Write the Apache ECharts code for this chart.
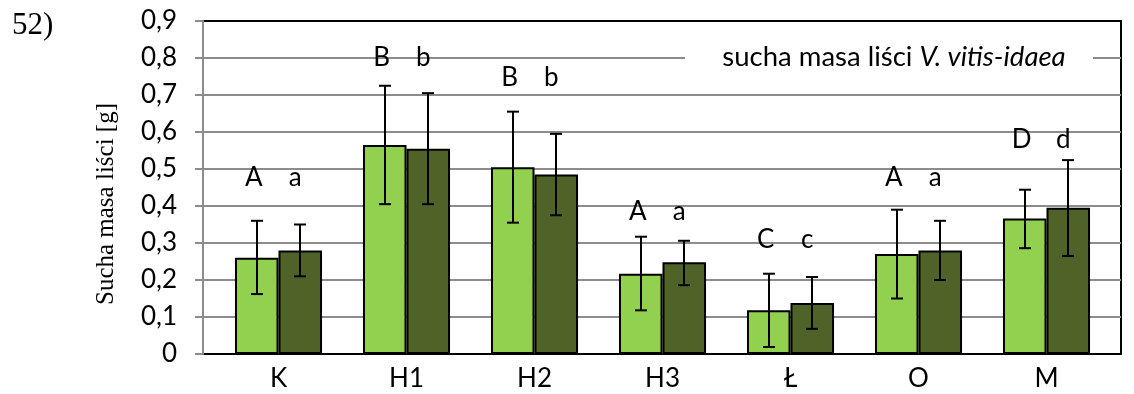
<!DOCTYPE html>
<html><head><meta charset="utf-8">
<script src="https://cdn.jsdelivr.net/npm/echarts@6/dist/echarts.min.js"></script>
<style>html,body{margin:0;padding:0;background:#fff}#c{width:1134px;height:394px}</style>
</head><body><div id="c"></div>
<script>
const categories = ['K','H1','H2','H3','Ł','O','M'];
const yTicks = ['0','0,1','0,2','0,3','0,4','0,5','0,6','0,7','0,8','0,9'];
const lightMean = [0.26, 0.565, 0.505, 0.217, 0.118, 0.27, 0.366];
const lightLow  = [0.162, 0.405, 0.355, 0.118, 0.019, 0.15, 0.286];
const lightHigh = [0.36, 0.725, 0.655, 0.317, 0.217, 0.39, 0.444];
const darkMean  = [0.28, 0.555, 0.485, 0.248, 0.138, 0.28, 0.395];
const darkLow   = [0.21, 0.405, 0.375, 0.186, 0.068, 0.20, 0.265];
const darkHigh  = [0.35, 0.705, 0.595, 0.306, 0.208, 0.36, 0.524];
const lightLetters = ['A','B','B','A','C','A','D'];
const darkLetters  = ['a','b','b','a','c','a','d'];
const letterLevel  = [0.476, 0.80, 0.748, 0.384, 0.31, 0.476, 0.58];

const GAP = 0.32;
const font = 'Lato';
const FS = 26;
const chart = echarts.init(document.getElementById('c'));
function barW(api){ return api.size([1,0])[0]*(1-GAP)/2; }
function errSeries(low, high, side){
  return {
    type:'custom', z:5, xAxisIndex:1, yAxisIndex:1,
    data: low.map((l,i)=>[i,l,high[i]]),
    renderItem(params, api){
      const w = barW(api);
      const p1 = api.coord([api.value(0), api.value(1)]);
      const p2 = api.coord([api.value(0), api.value(2)]);
      const x = Math.round(p1[0] + side*w/2);
      const cap = 6;
      const st = {stroke:'#000', lineWidth:2};
      return {type:'group', children:[
        {type:'line', shape:{x1:x,y1:p1[1],x2:x,y2:p2[1]}, style:st},
        {type:'line', shape:{x1:x-cap,y1:p1[1],x2:x+cap,y2:p1[1]}, style:st},
        {type:'line', shape:{x1:x-cap,y1:p2[1],x2:x+cap,y2:p2[1]}, style:st}
      ]};
    }
  };
}
chart.setOption({
  animation:false,
  graphic:[
    {type:'text', left:12, top:10, z:100, style:{text:'52)', fontFamily:'Liberation Serif', fontSize:31, fill:'#000'}},
    {type:'text', x:106, y:204, rotation:Math.PI/2, z:100, style:{text:'Sucha masa liści [g]', fontFamily:'Liberation Serif', fontSize:25, fill:'#000', align:'center', verticalAlign:'middle'}},
    {type:'rect', z:100, shape:{x:685, y:42, width:408, height:32}, style:{fill:'#fff'}},
    {type:'text', z:101, x:894, y:57, style:{
      text:'{n|sucha masa liści }{i|V. vitis-idaea}', align:'center', verticalAlign:'middle',
      rich:{
        n:{fontFamily:font, fontSize:27.5, fill:'#000'},
        i:{fontFamily:font, fontSize:27.5, fontStyle:'italic', fill:'#000'}
      }}}
  ],
  grid:[
    {left:203, right:13, top:21, bottom:40, show:true, borderColor:'#000', borderWidth:2, backgroundColor:'transparent'},
    {left:214.5, right:23.5, top:21, bottom:40}
  ],
  xAxis:[
    {type:'category', gridIndex:0, data:categories, show:false},
    {type:'category', gridIndex:1, data:categories,
      axisLine:{show:false}, axisTick:{show:false},
      axisLabel:{fontFamily:font, fontSize:FS, color:'#000', margin:12}}
  ],
  yAxis:[
    {type:'value', gridIndex:0, min:0, max:0.9, interval:0.1,
      axisLine:{show:true, lineStyle:{color:'#8c8c8c', width:2}},
      axisTick:{show:true, length:8, lineStyle:{color:'#8c8c8c', width:2}},
      axisLabel:{fontFamily:font, fontSize:FS, color:'#000', margin:26,
        formatter:(v)=>yTicks[Math.round(v*10)]},
      splitLine:{show:true, showMinLine:false, showMaxLine:false, lineStyle:{color:'#8c8c8c', width:2}}},
    {type:'value', gridIndex:1, min:0, max:0.9, interval:0.1, show:false, splitLine:{show:false}}
  ],
  series:[
    {type:'bar', xAxisIndex:1, yAxisIndex:1, data:lightMean, barGap:'0%', barCategoryGap:(GAP*100)+'%', z:3,
      itemStyle:{color:'#92D050', borderColor:'#000', borderWidth:2}},
    {type:'bar', xAxisIndex:1, yAxisIndex:1, data:darkMean, barGap:'0%', barCategoryGap:(GAP*100)+'%', z:3,
      itemStyle:{color:'#4F6228', borderColor:'#000', borderWidth:2}},
    errSeries(lightLow, lightHigh, -1),
    errSeries(darkLow, darkHigh, 1),
    {type:'custom', z:6, xAxisIndex:1, yAxisIndex:1,
      data: letterLevel.map((v,i)=>[i,v]),
      renderItem(params, api){
        const w = barW(api);
        const i = api.value(0);
        const p = api.coord([i, api.value(1)]);
        const mk = (t, x) => ({type:'text', style:{text:t, x:x, y:p[1], fontFamily:font, fontSize:FS, fill:'#000', align:'center', verticalAlign:'middle'}});
        return {type:'group', children:[
          mk(lightLetters[i], p[0]-w/2-3),
          mk(darkLetters[i], p[0]+w/2-5)
        ]};
      }
    }
  ]
});
</script></body></html>
